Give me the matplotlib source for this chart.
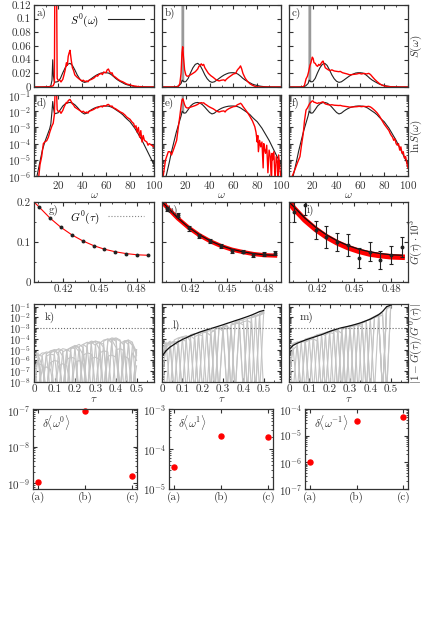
import matplotlib
matplotlib.use('Agg')
import matplotlib.pyplot as plt
import numpy as np
from matplotlib.ticker import MultipleLocator, FuncFormatter, LogLocator, NullFormatter
from matplotlib.lines import Line2D

plt.rcParams["font.family"] = "cmr10"
plt.rcParams["mathtext.fontset"] = "cm"
plt.rcParams["axes.formatter.use_mathtext"] = True

# ---------------- data: spectra, (omega, log10 S) ----------------
S0_a = [(0, -7.5), (2.5, -6), (5, -5.1), (7, -4.4), (9, -3.9), (11, -3.5), (13, -3.1), (14, -2.8),
        (15, -2.0), (15.6, -1.4), (16.2, -1.8), (17, -2.1), (18, -2.15), (19, -2.12), (20, -2.1),
        (22, -1.9), (24, -1.68), (26, -1.55), (28, -1.48), (30, -1.46), (32, -1.5), (34, -1.6),
        (36, -1.75), (38, -1.92), (40, -2.08), (42, -2.17), (44, -2.12), (46, -2.0), (48, -1.9),
        (50, -1.82), (52, -1.76), (54, -1.72), (56, -1.69), (58, -1.68), (60, -1.68), (62, -1.69),
        (64, -1.73), (66, -1.8), (68, -1.9), (70, -2.0), (72, -2.1), (74, -2.22), (76, -2.38),
        (78, -2.52), (80, -2.65), (82, -2.85), (84, -3.05), (86, -3.3), (88, -3.55), (90, -3.8),
        (92, -4.1), (94, -4.4), (96, -4.7), (98, -5.0), (100, -5.3)]

S0_bc = [(0, -7.5), (3.5, -6), (6, -5.2), (8, -4.5), (10, -3.9), (12, -3.3), (14, -2.8), (16, -2.3),
         (17, -2.0), (18.2, -2.1), (19, -2.12), (20, -2.1), (22, -1.9), (24, -1.68), (26, -1.55),
         (28, -1.48), (30, -1.46), (32, -1.5), (34, -1.6), (36, -1.75), (38, -1.92), (40, -2.08),
         (42, -2.17), (44, -2.12), (46, -2.0), (48, -1.9), (50, -1.82), (52, -1.76), (54, -1.72),
         (56, -1.69), (58, -1.68), (60, -1.68), (62, -1.69), (64, -1.73), (66, -1.8), (68, -1.9),
         (70, -2.0), (72, -2.1), (74, -2.22), (76, -2.38), (78, -2.52), (80, -2.65), (82, -2.85),
         (84, -3.05), (86, -3.3), (88, -3.55), (90, -3.8), (92, -4.1), (94, -4.4), (96, -4.7),
         (98, -5.0), (100, -5.3)]

spike = [(16.9, -2.05), (17.5, 0.5), (18.1, -2.1)]

red_a = [(0, -8), (4, -6), (5, -5.3), (6.4, -4.8), (7.8, -4.0), (9, -3.9), (10.6, -3.82), (12, -3.6),
         (13.3, -3.26), (15, -2.9), (16, -2.75), (17, -2.2), (17.6, -0.6), (18.2, 0.2), (18.8, -0.8),
         (19.3, -1.9), (20.3, -2.03), (21.5, -2.0), (22.5, -2.13), (24, -1.95), (25, -1.75),
         (26, -1.6), (27, -1.45), (27.8, -1.5), (28.5, -1.35), (29.3, -1.3), (30, -1.27), (31, -1.4),
         (32, -1.55), (33, -1.62), (34, -1.75), (36, -1.85), (38, -1.95), (40, -2.05), (41, -2.0),
         (42.5, -2.1), (44, -2.05), (45, -2.12), (46, -2.0), (48, -1.95), (50, -1.88), (52, -1.78),
         (53, -1.8), (54, -1.74), (56, -1.7), (57, -1.74), (58, -1.66), (60, -1.68), (61, -1.6),
         (62, -1.58), (63, -1.65), (64, -1.7), (65, -1.68), (66, -1.78), (68, -1.85), (70, -1.95),
         (72, -2.05), (74, -2.12), (76, -2.25), (77, -2.34), (78, -2.4), (80, -2.5), (81, -2.6),
         (82, -2.7), (83, -2.75), (84, -3.0), (85, -2.9), (86, -3.3), (87, -3.0), (88, -3.6),
         (89, -3.2), (90, -3.9), (91, -3.5), (92, -3.8), (94, -3.9), (95, -4.1), (96, -4.0),
         (98, -4.1), (100, -4.2)]

red_b = [(0, -8), (1, -6), (3, -5.0), (5.3, -4.5), (6.7, -4.5), (8, -4.7), (10, -4.3), (12.3, -3.8),
         (13.7, -3.0), (15, -2.3), (16, -1.7), (16.8, -1.3), (17.4, -1.23), (18, -1.35), (19, -1.6),
         (20, -1.75), (21, -1.8), (22, -1.8), (24, -1.75), (26, -1.7), (28, -1.65), (30, -1.58),
         (31, -1.52), (32, -1.5), (33, -1.47), (34, -1.5), (35, -1.48), (36, -1.55), (37.5, -1.62),
         (39, -1.7), (41, -1.78), (43, -1.85), (45, -1.95), (46, -2.0), (48, -2.05), (50, -2.0),
         (52, -1.98), (53, -2.05), (54, -1.95), (56, -1.85), (58, -1.78), (60, -1.72), (62, -1.7),
         (63, -1.62), (64, -1.58), (65, -1.55), (66, -1.51), (67, -1.58), (68, -1.7), (70, -1.9),
         (72, -2.1), (74, -2.34), (76, -2.6), (78, -2.96), (79, -3.3), (80, -3.9), (80.5, -3.5),
         (81, -4.5), (82, -3.8), (83, -4.2), (84, -3.9), (85, -5.5), (85.5, -4.0), (86, -4.3),
         (87, -4.6), (88, -4.1), (89, -5.8), (90, -4.4), (91, -4.8), (92, -6.5), (92.5, -4.6),
         (93, -5.0), (94, -4.5), (95, -6.3), (96, -4.8), (97, -5.2), (97.5, -6.8), (98, -4.7),
         (99, -5.5), (100, -6.2)]

red_c = [(0, -8), (2.8, -6), (5, -5.6), (7, -5.2), (9.2, -4.8), (10.5, -4.1), (12, -3.37), (13, -2.6),
         (14.3, -1.93), (15.5, -1.8), (16.5, -1.65), (17.6, -1.5), (18.4, -1.45), (19, -1.4),
         (19.6, -1.36), (20.3, -1.38), (21, -1.45), (22, -1.46), (23, -1.5), (24, -1.52), (25, -1.48),
         (26, -1.5), (27, -1.46), (28, -1.43), (28.6, -1.42), (29.5, -1.48), (30.5, -1.55), (32, -1.58),
         (33, -1.6), (34.5, -1.62), (36, -1.6), (38, -1.63), (40, -1.64), (42, -1.65), (43, -1.64),
         (45, -1.68), (47, -1.7), (49, -1.72), (51, -1.75), (53, -1.74), (55, -1.73), (57, -1.72),
         (59, -1.7), (61, -1.72), (63, -1.7), (65, -1.72), (67, -1.7), (68.5, -1.74), (70, -1.82),
         (72, -1.95), (74, -2.1), (76, -2.3), (78, -2.55), (80, -2.8), (82, -3.0), (84, -3.2),
         (85, -3.37), (86, -3.5), (87, -3.6), (88, -3.8), (89, -3.7), (90, -4.0), (91, -4.1),
         (92, -4.0), (93, -4.4), (94, -4.2), (95, -4.6), (96, -4.5), (97, -4.9), (98, -4.8),
         (99, -5.2), (100, -5.5)]

# ---------------- data: imaginary-time correlators ----------------
tau_pts = [0.4005, 0.4094, 0.4182, 0.4271, 0.4359, 0.4448, 0.4536, 0.4625, 0.4713, 0.4802, 0.4890]
tau_line = [0.3965] + tau_pts
G0_pts = [0.188, 0.160, 0.137, 0.118, 0.103, 0.091, 0.082, 0.0755, 0.0710, 0.0680, 0.0668]
G0_line = [0.2] + G0_pts
G_h = [0.1825, 0.1675, 0.134, 0.116, 0.1025, 0.090, 0.0775, 0.076, 0.0675, 0.069, 0.073]
err_h = [0.006, 0.006, 0.006, 0.005, 0.004, 0.004, 0.005, 0.004, 0.005, 0.005, 0.005]
red_h = [0.2, 0.187, 0.159, 0.136, 0.117, 0.102, 0.090, 0.081, 0.075, 0.070, 0.067, 0.066]
G_i = [0.175, 0.1925, 0.130, 0.113, 0.100, 0.0925, 0.060, 0.076, 0.055, 0.0675, 0.088]
err_i = [0.024, 0.025, 0.023, 0.027, 0.023, 0.027, 0.026, 0.024, 0.022, 0.022, 0.025]
red_i = [0.2, 0.184, 0.155, 0.132, 0.113, 0.098, 0.086, 0.077, 0.070, 0.066, 0.063, 0.062]

# ---------------- data: relative deviations, log10 on tau grid ----------------
tau_grid = [0.0, 0.02, 0.04, 0.06, 0.08, 0.10, 0.12, 0.14, 0.16, 0.18, 0.20, 0.22, 0.24,
            0.26, 0.28, 0.30, 0.32, 0.34, 0.36, 0.38, 0.40, 0.42, 0.44, 0.46, 0.48, 0.50]

dev_k = [
    [-5.4, -5.3, -9.0, -5.4, -5.1, -5.0, -5.6, -9.0, -5.0, -4.8, -4.9, -9.0, -4.5, -4.3, -4.5, -9.0, -4.4, -4.1, -4.0, -4.4, -9.0, -4.4, -4.2, -4.5, -9.0, -5.0],
    [-6.0, -9.0, -5.5, -5.2, -5.3, -9.0, -5.2, -4.9, -5.0, -9.0, -4.7, -4.5, -4.8, -9.0, -4.4, -4.2, -4.4, -9.0, -4.1, -3.9, -4.0, -9.0, -4.2, -4.2, -4.6, -5.5],
    [-5.3, -5.5, -6.5, -9.0, -5.2, -5.0, -5.0, -5.6, -9.0, -4.9, -4.7, -4.8, -5.5, -9.0, -4.3, -4.2, -4.3, -4.8, -9.0, -4.0, -3.9, -4.1, -9.0, -4.3, -4.4, -5.2],
    [-9.0, -5.6, -5.3, -5.3, -9.0, -5.2, -4.9, -5.1, -9.0, -4.8, -4.6, -4.8, -9.0, -4.4, -4.2, -4.3, -5.0, -9.0, -4.2, -4.0, -4.2, -9.0, -4.3, -4.1, -4.3, -9.0],
    [-5.8, -5.5, -5.6, -9.0, -5.3, -5.1, -5.3, -9.0, -5.1, -4.8, -4.7, -5.2, -9.0, -4.5, -4.3, -4.6, -9.0, -4.2, -4.0, -4.1, -4.8, -9.0, -4.2, -4.1, -9.0, -5.0],
    [-7.0, -6.0, -9.0, -5.6, -5.4, -5.5, -9.0, -5.2, -5.0, -5.2, -9.0, -4.7, -4.5, -4.8, -9.0, -4.5, -4.3, -4.5, -9.0, -4.1, -4.0, -4.2, -4.6, -9.0, -4.5, -5.3],
    [-6.5, -6.3, -6.4, -9.0, -6.2, -6.0, -6.1, -9.0, -5.9, -5.7, -5.8, -9.0, -5.5, -5.3, -5.4, -9.0, -5.3, -5.1, -5.2, -9.0, -5.0, -4.9, -5.1, -9.0, -5.3, -6.0],
    [-7.2, -9.0, -6.8, -6.6, -6.8, -9.0, -6.5, -6.3, -6.5, -9.0, -6.2, -6.0, -6.3, -9.0, -5.8, -5.7, -5.9, -9.0, -5.6, -5.5, -5.7, -9.0, -5.6, -5.8, -9.0, -6.5],
]

dev_l = [
    [-5.3, -4.5, -4.2, -9.0, -4.0, -3.8, -3.7, -4.2, -9.0, -3.4, -3.3, -3.4, -9.0, -3.0, -2.95, -3.3, -9.0, -2.6, -2.5, -2.6, -9.0, -2.1, -2.0, -9.0, -1.6, -1.45],
    [-5.0, -4.3, -9.0, -4.1, -3.9, -3.8, -9.0, -3.6, -3.5, -3.5, -9.0, -3.2, -3.1, -3.3, -9.0, -2.8, -2.7, -9.0, -2.4, -2.3, -2.3, -9.0, -1.9, -1.8, -9.0, -1.5],
    [-5.6, -4.8, -4.4, -4.2, -9.0, -3.9, -3.8, -3.7, -4.0, -9.0, -3.4, -3.3, -3.2, -9.0, -3.0, -2.9, -2.8, -3.2, -9.0, -2.3, -2.2, -2.1, -9.0, -1.8, -1.7, -1.5],
    [-6.0, -9.0, -4.5, -4.3, -4.2, -9.0, -3.8, -3.7, -3.6, -9.0, -3.4, -3.3, -9.0, -3.1, -3.0, -2.9, -3.1, -9.0, -2.5, -2.4, -9.0, -2.1, -2.0, -1.9, -1.7, -9.0],
    [-5.4, -4.6, -4.3, -4.3, -4.6, -9.0, -3.9, -3.8, -9.0, -3.6, -3.4, -3.4, -3.7, -9.0, -3.1, -3.0, -9.0, -2.7, -2.6, -2.5, -2.7, -9.0, -2.0, -1.9, -1.8, -1.6],
    [-7.0, -5.0, -4.7, -9.0, -4.3, -4.1, -4.2, -9.0, -3.8, -3.6, -3.7, -9.0, -3.4, -3.2, -9.0, -3.1, -3.0, -3.0, -9.0, -2.6, -2.4, -2.3, -2.5, -9.0, -1.8, -1.6],
]
bound_l = [-5.6, -5.1, -4.75, -4.5, -4.25, -4.05, -3.88, -3.7, -3.55, -3.4, -3.27, -3.15, -3.03,
           -2.92, -2.8, -2.68, -2.55, -2.43, -2.3, -2.18, -2.05, -1.92, -1.78, -1.62, -1.45, -1.35]

dev_m = [
    [-5.0, -4.4, -4.3, -9.0, -4.0, -3.9, -3.8, -9.0, -3.5, -3.4, -3.3, -9.0, -3.1, -3.0, -9.0, -2.8, -2.7, -2.6, -9.0, -2.3, -2.1, -1.9, -1.7, -9.0, -1.1, -0.9],
    [-5.5, -9.0, -4.4, -4.2, -4.1, -9.0, -3.8, -3.6, -3.5, -3.7, -9.0, -3.2, -3.1, -9.0, -2.9, -2.8, -2.8, -9.0, -2.4, -2.3, -2.2, -9.0, -1.8, -9.0, -1.1, -1.0],
    [-5.2, -4.6, -4.3, -4.2, -9.0, -3.9, -3.8, -3.7, -9.0, -3.4, -3.3, -3.2, -3.4, -9.0, -2.9, -2.8, -9.0, -2.6, -2.5, -2.3, -9.0, -2.0, -1.8, -9.0, -1.2, -1.0],
    [-6.5, -4.8, -9.0, -4.3, -4.2, -4.0, -9.0, -3.7, -3.6, -9.0, -3.3, -3.2, -3.2, -3.5, -9.0, -2.9, -2.8, -2.7, -2.9, -9.0, -2.2, -2.0, -1.8, -9.0, -1.0, -1.1],
    [-5.0, -4.5, -4.3, -4.2, -4.3, -9.0, -3.8, -3.6, -3.6, -9.0, -3.3, -3.2, -9.0, -3.0, -2.9, -9.0, -2.8, -2.7, -2.5, -2.4, -9.0, -2.0, -1.8, -1.6, -9.0, -0.95],
    [-7.5, -5.0, -4.6, -9.0, -4.3, -4.1, -4.0, -4.2, -9.0, -3.6, -3.4, -3.5, -9.0, -3.1, -3.0, -3.0, -9.0, -2.7, -2.6, -9.0, -2.2, -2.0, -1.9, -1.8, -9.0, -1.0],
]
bound_m = [-5.0, -4.6, -4.4, -4.25, -4.1, -3.97, -3.85, -3.72, -3.6, -3.45, -3.3, -3.17, -3.05,
           -2.95, -2.87, -2.78, -2.68, -2.57, -2.45, -2.3, -2.15, -1.95, -1.75, -1.45, -1.0, -0.85]

# ---------------- data: moment errors ----------------
cases = ['(a)', '(b)', '(c)']
dmom0 = [1.05e-9, 9.3e-8, 1.6e-9]
dmom1 = [3.5e-5, 2.1e-4, 1.95e-4]
dmomm1 = [1.0e-6, 3.5e-5, 4.9e-5]

# ---------------- figure ----------------
W, H = 424, 643
fig = plt.figure(figsize=(W / 100, H / 100), dpi=100)
TC = '#333333'
fs = 8


def rect(x0, x1, top, bot):
    return [x0 / W, 1 - bot / H, (x1 - x0) / W, (bot - top) / H]


def style(ax):
    for s in ax.spines.values():
        s.set_color(TC)
        s.set_linewidth(0.9)
    ax.tick_params(which='both', direction='in', top=True, right=True, colors=TC,
                   labelsize=fs, pad=2)
    ax.tick_params(which='major', length=3)
    ax.tick_params(which='minor', length=1.5)


def xy(pairs):
    w = np.array([p[0] for p in pairs])
    v = np.array([p[1] for p in pairs])
    return w, 10.0 ** v


gfmt = FuncFormatter(lambda v, p: '%g' % round(v, 4))
cols = [(34, 154), (162, 281), (289, 408)]
rows = [(5, 87), (95, 176), (202, 282), (304, 382)]
spec_sets = [(S0_a, red_a, False), (S0_bc, red_b, True), (S0_bc, red_c, True)]
letters = ['abc', 'def', 'ghi', 'klm']

# rows 1 and 2: spectra
for r in range(2):
    for c in range(3):
        ax = fig.add_axes(rect(cols[c][0], cols[c][1], rows[r][0], rows[r][1]))
        style(ax)
        s0, red, has_spike = spec_sets[c]
        if has_spike:
            ws, ss = xy(spike)
            ax.plot(ws, ss, color='#999999', lw=1.0)
        w, s = xy(s0)
        ax.plot(w, s, color='#222222', lw=0.8)
        w, s = xy(red)
        ax.plot(w, s, color='red', lw=1.0)
        ax.set_xlim(0, 100)
        ax.xaxis.set_major_locator(MultipleLocator(20))
        ax.xaxis.set_minor_locator(MultipleLocator(10))
        if r == 0:
            ax.set_ylim(0, 0.12)
            ax.yaxis.set_major_locator(MultipleLocator(0.02))
            ax.yaxis.set_major_formatter(gfmt)
            ax.set_xticklabels([])
        else:
            ax.set_yscale('log')
            ax.set_ylim(1e-6, 1e-1)
            ax.yaxis.set_major_locator(LogLocator(base=10, numticks=20))
            ax.yaxis.set_minor_locator(LogLocator(base=10, subs=np.arange(2, 10), numticks=20))
            ax.yaxis.set_minor_formatter(NullFormatter())
            ax.set_xticks([20, 40, 60, 80, 100])
            ax.set_xlabel(r'$\omega$', fontsize=fs, labelpad=0, color=TC)
        if c > 0:
            ax.set_yticklabels([])
        ax.text(0.02, 0.97, letters[r][c] + ')', transform=ax.transAxes, ha='left', va='top',
                fontsize=fs, color=TC)
        if r == 0 and c == 0:
            h = Line2D([], [], color='#222222', lw=0.8)
            ax.legend([h], [r'$S^0(\omega)$'], loc='upper right', frameon=False, fontsize=fs,
                      markerfirst=False, handlelength=3.2, borderaxespad=0.2,
                      bbox_to_anchor=(0.97, 1.0))

# row 3: G(tau)
lab3_x = [0.12, 0.05, 0.15]
for c in range(3):
    ax = fig.add_axes(rect(cols[c][0], cols[c][1], rows[2][0], rows[2][1]))
    style(ax)
    if c == 0:
        ax.plot(tau_line, G0_line, color='red', lw=0.8)
        ax.plot(tau_pts, G0_pts, 'o', color='#222222', ms=1.8)
        h = Line2D([], [], color='#888888', lw=0.8, ls=':')
        ax.legend([h], [r'$G^0(\tau)$'], loc='upper right', frameon=False, fontsize=fs,
                  markerfirst=False, handlelength=3.2, borderaxespad=0.2,
                  bbox_to_anchor=(0.97, 1.0))
    elif c == 1:
        ax.plot(tau_line, red_h, color='red', lw=3.0)
        ax.plot(tau_line, G0_line, color='#111111', lw=0.9)
        ax.errorbar(tau_pts, G_h, yerr=err_h, fmt='o', color='#222222', ms=1.8,
                    elinewidth=0.8, capsize=1.5, capthick=0.8)
    else:
        ax.plot(tau_line, red_i, color='red', lw=4.0)
        ax.plot(tau_line, G0_line, color='#111111', lw=0.9)
        ax.errorbar(tau_pts, G_i, yerr=err_i, fmt='o', color='#222222', ms=1.8,
                    elinewidth=0.8, capsize=1.5, capthick=0.8)
    ax.set_xlim(0.3965, 0.4938)
    ax.set_ylim(0, 0.2)
    ax.xaxis.set_major_locator(MultipleLocator(0.03))
    ax.xaxis.set_minor_locator(MultipleLocator(0.01))
    ax.yaxis.set_major_locator(MultipleLocator(0.1))
    ax.yaxis.set_minor_locator(MultipleLocator(0.05))
    ax.xaxis.set_major_formatter(gfmt)
    ax.yaxis.set_major_formatter(gfmt)
    if c > 0:
        ax.set_yticklabels([])
    ax.text(lab3_x[c], 0.96, letters[2][c] + ')', transform=ax.transAxes,
            ha='left', va='top', fontsize=fs, color=TC)

# row 4: relative deviations
dev_sets = [(dev_k, None), (dev_l, bound_l), (dev_m, bound_m)]
lab4_y = [0.83, 0.73, 0.83]
for c in range(3):
    ax = fig.add_axes(rect(cols[c][0], cols[c][1], rows[3][0], rows[3][1]))
    style(ax)
    ax.tick_params(axis='y', labelsize=7.5)
    devs, bound = dev_sets[c]
    for d in devs:
        ax.plot(tau_grid, 10.0 ** np.array(d), color='#c4c4c4', lw=0.8)
    if bound is not None:
        ax.plot(tau_grid, 10.0 ** np.array(bound), color='#111111', lw=0.9)
    ax.axhline(1e-3, color='#666666', ls=':', lw=0.8)
    ax.set_yscale('log')
    ax.set_ylim(1e-8, 10 ** -0.75)
    ax.set_xlim(0, 0.585)
    ax.xaxis.set_major_locator(MultipleLocator(0.1))
    ax.xaxis.set_minor_locator(MultipleLocator(0.05))
    ax.xaxis.set_major_formatter(gfmt)
    ax.yaxis.set_major_locator(LogLocator(base=10, numticks=20))
    ax.yaxis.set_minor_locator(LogLocator(base=10, subs=np.arange(2, 10), numticks=20))
    ax.yaxis.set_minor_formatter(NullFormatter())
    ax.set_xlabel(r'$\tau$', fontsize=fs, labelpad=0, color=TC)
    if c > 0:
        ax.set_yticklabels([])
    ax.text(0.09, lab4_y[c], letters[3][c] + ')', transform=ax.transAxes, ha='left',
            va='center', fontsize=fs, color=TC)

# row 5: moments
mom_sets = [(dmom0, (10 ** -9.16, 10 ** -6.97), r'$\delta\langle\omega^0\rangle$'),
            (dmom1, (1e-5, 1e-3), r'$\delta\langle\omega^1\rangle$'),
            (dmomm1, (1e-7, 1e-4), r'$\delta\langle\omega^{-1}\rangle$')]
cols5 = [(33, 137), (169, 273), (305, 408)]
for c in range(3):
    ax = fig.add_axes(rect(cols5[c][0], cols5[c][1], 409, 489))
    style(ax)
    vals, lims, lab = mom_sets[c]
    ax.plot(range(len(cases)), vals, 'o', color='red', ms=3.6, clip_on=False)
    ax.set_yscale('log')
    ax.set_ylim(*lims)
    ax.set_xlim(-0.1, 2.1)
    ax.set_xticks(range(len(cases)))
    ax.set_xticklabels(cases)
    ax.yaxis.set_major_locator(LogLocator(base=10, numticks=20))
    ax.yaxis.set_minor_locator(LogLocator(base=10, subs=np.arange(2, 10), numticks=20))
    ax.yaxis.set_minor_formatter(NullFormatter())
    ax.text(0.09, 0.95, lab, transform=ax.transAxes, ha='left', va='top', fontsize=fs, color=TC)

# right-hand labels
fig.text(416 / W, 1 - 46 / H, r'$S(\omega)$', rotation=90, ha='center', va='center',
         fontsize=fs, color=TC)
fig.text(416 / W, 1 - 136 / H, r'$\ln S(\omega)$', rotation=90, ha='center', va='center',
         fontsize=fs, color=TC)
fig.text(416 / W, 1 - 242 / H, r'$G(\tau)\cdot 10^3$', rotation=90, ha='center', va='center',
         fontsize=fs, color=TC)
fig.text(416 / W, 1 - 343 / H, r'$|1-G(\tau)/G^0(\tau)|$', rotation=90, ha='center', va='center',
         fontsize=fs, color=TC)

fig.savefig('out.png', dpi=100)
